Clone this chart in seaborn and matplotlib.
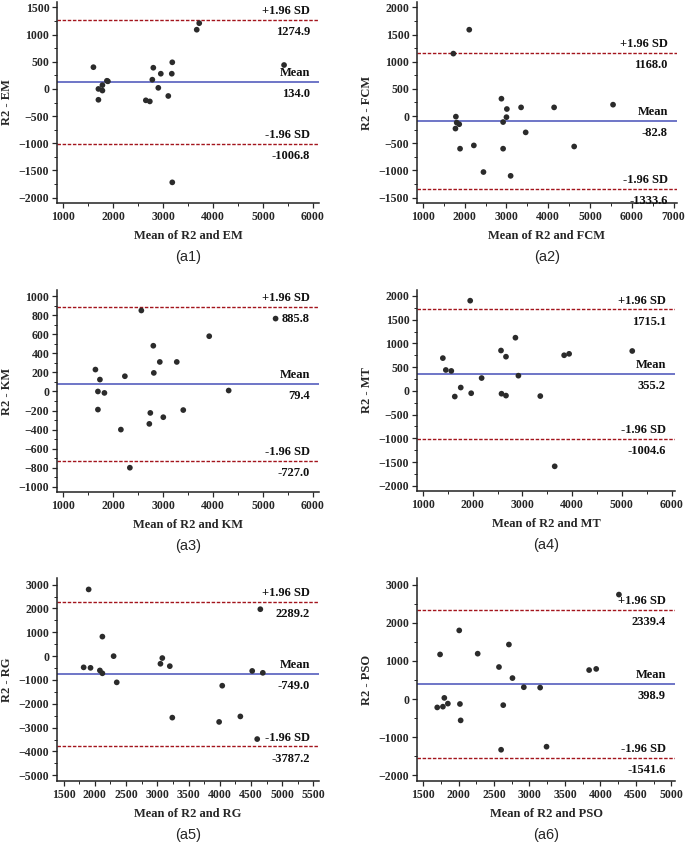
import numpy as np
import pandas as pd
import matplotlib
matplotlib.use("Agg")
import matplotlib.pyplot as plt
import matplotlib.transforms as mtransforms
from matplotlib.ticker import AutoMinorLocator, MultipleLocator
import seaborn as sns

# Bland-Altman data: mean of R2 and method (x), R2 - method (y)
methods = ["EM", "FCM", "KM", "MT", "RG", "PSO"]
captions = ["(a1)", "(a2)", "(a3)", "(a4)", "(a5)", "(a6)"]

em_x = [1600, 1700, 1700, 1780, 1780, 1870, 1890, 2650, 2730, 2780, 2800, 2900, 2950, 3100, 3170, 3180, 3180, 3670, 3720, 5420]
em_y = [400, 0, -200, 70, -30, 150, 140, -210, -230, 170, 390, 20, 280, -130, 280, 490, -1720, 1090, 1210, 440]

fcm_x = [1730, 1780, 1790, 1810, 1870, 1890, 2110, 2220, 2450, 2880, 2920, 2920, 3000, 3010, 3100, 3350, 3460, 4140, 4620, 5550]
fcm_y = [1150, -230, -10, -120, -150, -600, 1590, -540, -1030, 320, -110, -600, -20, 130, -1100, 160, -300, 160, -560, 210]

km_x = [1640, 1690, 1690, 1730, 1820, 2150, 2230, 2330, 2560, 2720, 2740, 2800, 2810, 2930, 3000, 3270, 3400, 3920, 4310, 5250]
km_y = [230, 0, -190, 125, -15, -400, 160, -800, 850, -340, -225, 480, 195, 310, -270, 310, -195, 580, 10, 765]

mt_x = [1400, 1460, 1570, 1640, 1760, 1950, 1970, 2180, 2570, 2580, 2670, 2670, 2860, 2920, 3360, 3650, 3840, 3940, 5210]
mt_y = [690, 440, 420, -120, 70, 1900, -50, 270, 850, -60, 720, -100, 1120, 320, -110, -1590, 750, 780, 840]

rg_x = [1820, 1900, 1930, 2080, 2120, 2120, 2300, 2350, 3050, 3080, 3200, 3240, 3990, 4040, 4330, 4520, 4600, 4650, 4690]
rg_y = [-470, 2800, -490, -600, 820, -720, 0, -1100, -320, -80, -420, -2580, -2760, -1240, -2530, -620, -3480, 1970, -700]

pso_x = [1700, 1740, 1780, 1800, 1850, 2010, 2020, 2030, 2270, 2570, 2600, 2630, 2710, 2760, 2920, 3150, 3240, 3840, 3940, 4260]
pso_y = [-220, 1170, -200, 30, -120, 1800, -130, -560, 1190, 840, -1330, -160, 1430, 550, 310, 300, -1250, 760, 790, 2740]

mean_diff = [134.0, -82.8, 79.4, 355.2, -749.0, 398.9]
upper_loa = [1274.9, 1168.0, 885.8, 1715.1, 2289.2, 2339.4]
lower_loa = [-1006.8, -1333.6, -727.0, -1004.6, -3787.2, -1541.6]

xs = [em_x, fcm_x, km_x, mt_x, rg_x, pso_x]
ys = [em_y, fcm_y, km_y, mt_y, rg_y, pso_y]

xlims = [(870, 6120), (860, 7080), (870, 6120), (880, 6070), (1393, 5590), (1415, 5050)]
ylims = [(-2100, 1600), (-1600, 2100), (-1055, 1065), (-2110, 2125), (-5240, 3280), (-2150, 3175)]
xsteps = [1000, 1000, 1000, 1000, 500, 500]
ysteps = [500, 500, 200, 500, 1000, 1000]

sns.set_style("ticks")
serif = ["Liberation Serif", "DejaVu Serif"]
plt.rcParams["font.family"] = serif
plt.rcParams["font.weight"] = "bold"

W, H = 685, 842
fig = plt.figure(figsize=(W / 100, H / 100), dpi=100)

# axes boxes in pixels: left, right, top, bottom
boxes = [(57, 319, 2, 203), (417, 677, 2, 203),
         (57, 319, 290, 492), (417, 675, 290, 491),
         (57, 319, 578, 781), (417, 675, 578, 781)]

blue = "#4650b8"
red = "#a3141c"

for i, m in enumerate(methods):
    l, r, t, b = boxes[i]
    ax = fig.add_axes([l / W, 1 - b / H, (r - l) / W, (b - t) / H])
    df = pd.DataFrame({"x": xs[i], "y": ys[i]})
    sns.scatterplot(data=df, x="x", y="y", ax=ax, color="#2b2b2b", s=17,
                    edgecolor="none", zorder=3)
    ax.axhline(mean_diff[i], color=blue, lw=1.1, zorder=2)
    ax.axhline(upper_loa[i], color=red, lw=1.0, ls=(0, (2.5, 1.2)), zorder=2)
    ax.axhline(lower_loa[i], color=red, lw=1.0, ls=(0, (2.5, 1.2)), zorder=2)

    ax.set_xlim(*xlims[i])
    ax.set_ylim(*ylims[i])
    ax.xaxis.set_major_locator(MultipleLocator(xsteps[i]))
    ax.yaxis.set_major_locator(MultipleLocator(ysteps[i]))
    ax.xaxis.set_minor_locator(AutoMinorLocator(2))
    ax.yaxis.set_minor_locator(AutoMinorLocator(2))
    ax.tick_params(which="major", length=3.5, width=0.9, labelsize=8.5, pad=2)
    ax.tick_params(which="minor", length=2, width=0.7)
    for lab in ax.get_xticklabels() + ax.get_yticklabels():
        lab.set_fontweight("bold")
    for side in ["top", "right"]:
        ax.spines[side].set_visible(False)
    for side in ["left", "bottom"]:
        ax.spines[side].set_linewidth(1.1)
        ax.spines[side].set_color("#222222")

    ax.set_xlabel(f"Mean of R2 and {m}", fontsize=9, fontweight="bold", labelpad=5)
    ax.set_ylabel(f"R2 - {m}", fontsize=9, fontweight="bold", labelpad=4)

    trans = mtransforms.blended_transform_factory(ax.transAxes, ax.transData)
    xr = 0.965
    for val, top in [(upper_loa[i], "+1.96 SD"), (mean_diff[i], "Mean"), (lower_loa[i], "-1.96 SD")]:
        ax.annotate(top, xy=(xr, val), xycoords=trans, xytext=(0, 2),
                    textcoords="offset points", ha="right", va="bottom",
                    fontsize=9, fontweight="bold", color="#111111")
        ax.annotate(f"{val:.1f}", xy=(xr, val), xycoords=trans, xytext=(0, -4.5),
                    textcoords="offset points", ha="right", va="top",
                    fontsize=9, fontweight="bold", color="#111111")

    cx = (l + r) / 2 / W
    cy = 1 - (b + 54) / H
    fig.text(cx, cy, captions[i], ha="center", va="center", fontsize=10.5,
             fontweight="normal", family=["Liberation Sans", "DejaVu Sans"])

fig.savefig("out.png", dpi=100)
